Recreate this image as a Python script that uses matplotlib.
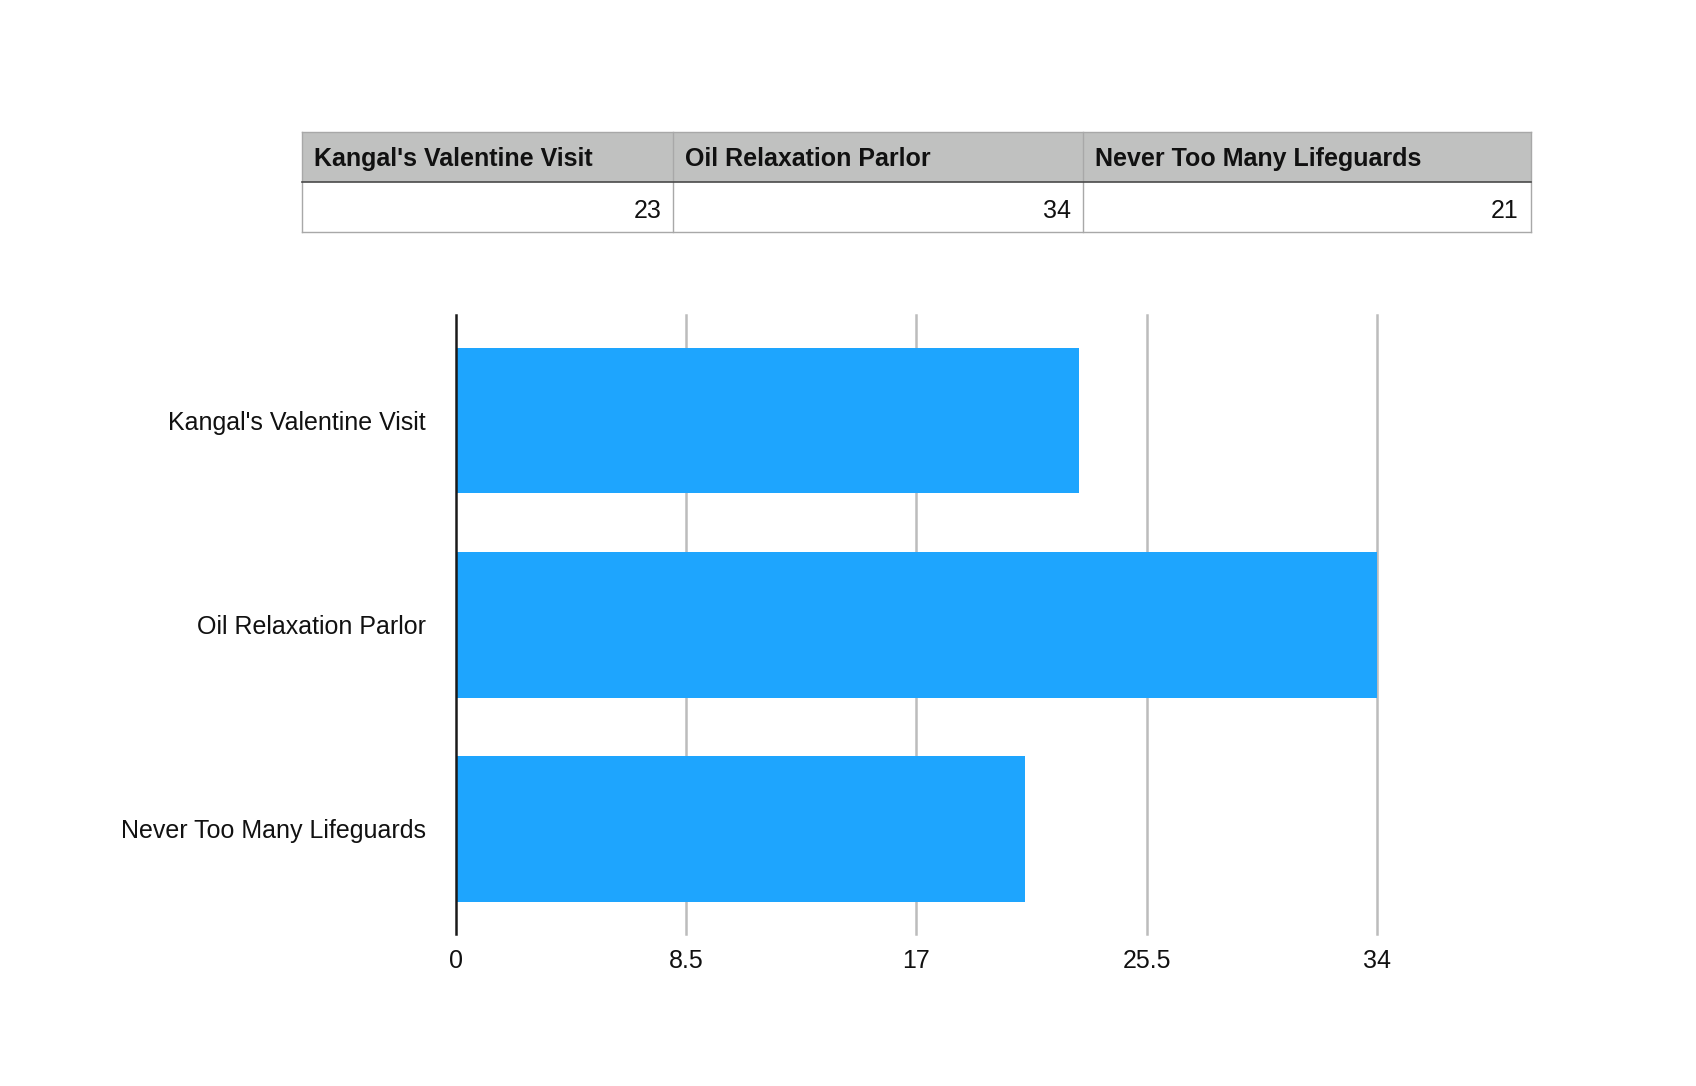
import matplotlib
matplotlib.use("Agg")
import matplotlib.pyplot as plt
from matplotlib.patches import Rectangle
from matplotlib.lines import Line2D
from matplotlib.ticker import FuncFormatter

categories = ["Kangal's Valentine Visit", "Oil Relaxation Parlor", "Never Too Many Lifeguards"]
values = [23, 34, 21]
x_ticks = [0, 8.5, 17, 25.5, 34]

W, H = 1696, 1086
plt.rcParams['font.family'] = ['Liberation Sans', 'DejaVu Sans']
fig = plt.figure(figsize=(W / 100, H / 100), dpi=100)

def fx(px):
    return px / W

def fy(py):
    return 1 - py / H

# ---------- bar chart ----------
ax_l, ax_r, ax_t, ax_b = 455.7, 1377.0, 315.0, 934.0
ax = fig.add_axes([fx(ax_l), fy(ax_b), fx(ax_r - ax_l), (ax_b - ax_t) / H])
ypos = list(range(len(categories)))
ax.barh(ypos, values, height=0.714, color='#1ea5fe', zorder=2)
ax.set_xlim(x_ticks[0], x_ticks[-1])
ax.set_ylim(len(categories) - 1 + 0.515, -0.517)
ax.set_xticks(x_ticks)
ax.xaxis.set_major_formatter(FuncFormatter(lambda v, p: f"{v:g}"))
ax.set_yticks(ypos)
ax.set_yticklabels(categories)
for v in x_ticks[1:]:
    ax.axvline(v, color='#bcbcbc', lw=1.8, zorder=1, clip_on=False)
for s in ['top', 'right', 'bottom']:
    ax.spines[s].set_visible(False)
ax.spines['left'].set_color('#1a1a1a')
ax.spines['left'].set_linewidth(1.8)
ax.spines['left'].set_zorder(3)
ax.tick_params(axis='both', length=0, labelsize=18, colors='#111111')
ax.tick_params(axis='y', pad=21.5)
ax.tick_params(axis='x', pad=11)

# ---------- table ----------
t_l, t_r, t_top, t_mid, t_bot = 301.7, 1530.7, 131.5, 182.3, 232.0
col_edges = [t_l, 673.3, 1082.7, t_r]
head_base, val_base = 166.0, 217.5
fig.patches.append(Rectangle((fx(t_l), fy(t_mid)), fx(t_r - t_l), (t_mid - t_top) / H,
                             transform=fig.transFigure, facecolor='#c0c1c0',
                             edgecolor='none', zorder=0))
def hline(y, x0, x1, c, lw):
    fig.lines.append(Line2D([fx(x0), fx(x1)], [fy(y), fy(y)], transform=fig.transFigure,
                            color=c, lw=lw))
def vline(x, y0, y1, c, lw):
    fig.lines.append(Line2D([fx(x), fx(x)], [fy(y0), fy(y1)], transform=fig.transFigure,
                            color=c, lw=lw))
hline(t_top, t_l, t_r, '#a8a8a8', 1.0)
hline(t_bot, t_l, t_r, '#a8a8a8', 1.0)
for x in col_edges:
    vline(x, t_top, t_bot, '#a8a8a8', 1.0)
hline(t_mid, t_l, t_r, '#4a4a4a', 1.2)

for i, (name, val) in enumerate(zip(categories, values)):
    x0, x1 = col_edges[i], col_edges[i + 1]
    fig.text(fx(x0 + 12), fy(head_base), name, fontsize=18, fontweight='bold',
             ha='left', va='baseline', color='#111111')
    fig.text(fx(x1 - 12), fy(val_base), f"{val}", fontsize=18,
             ha='right', va='baseline', color='#111111')

fig.savefig('out.png', dpi=100)
